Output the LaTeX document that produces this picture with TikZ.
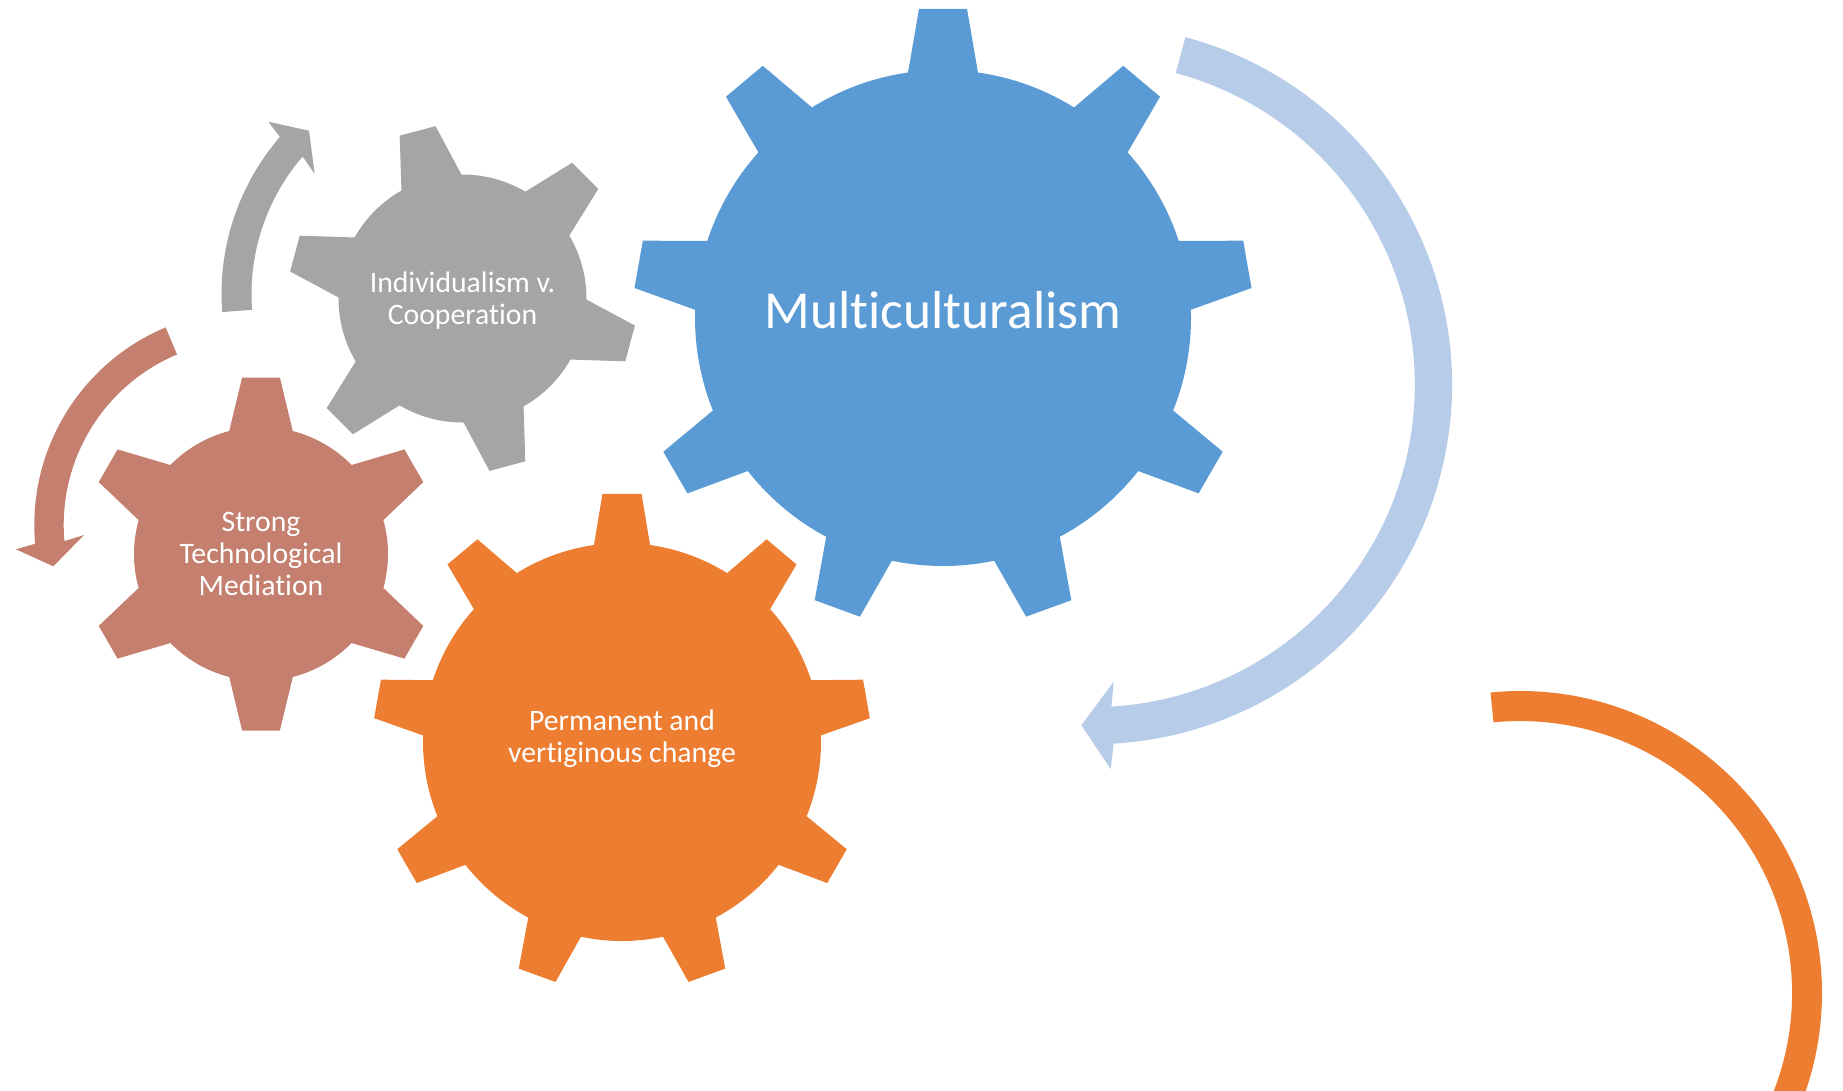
\documentclass[tikz,border=0pt]{standalone}
\usepackage{fontspec}
\setmainfont{Carlito}[Ligatures=CommonOff]
\usetikzlibrary{positioning}
\definecolor{gearblue}{HTML}{5B9BD5}
\definecolor{gearorange}{HTML}{ED7D31}
\definecolor{geargray}{HTML}{A5A5A5}
\definecolor{gearsalmon}{HTML}{C47F6E}
\definecolor{arrowblue}{HTML}{B7CCE8}
\tikzset{
  lab/.style = {text = white, align = center, inner sep = 0pt,
                font = \fontsize{8.45}{9.1}\selectfont},
  bigoneLab/.style = {lab, font = \fontsize{15.2}{17}\selectfont}
}
% teeth, turn, body radius, tip radius, half base angle, half tip angle, colour
\newcommand{\gearshape}[7]{
  \pgfmathsetmacro{\gstep}{360/#1}
  \fill[#7] (#2-#5:#3)
    \foreach [evaluate=\i as \ga using #2+(\i-1)*\gstep] \i in {1,...,#1} {
      -- (\ga-#6:#4) -- (\ga+#6:#4) -- (\ga+#5:#3)
      arc[start angle=\ga+#5, end angle=\ga+\gstep-#5, radius=#3]
    } -- cycle;
}
% outer radius, inner radius, tail angle, neck angle, head points, colour
\newcommand{\bentarrow}[8]{
  \fill[#8] (#3:#1) arc[start angle=#3, end angle=#4, radius=#1]
    -- #5 -- #6 -- #7 -- (#4:#2)
    arc[start angle=#4, end angle=#3, radius=#2] -- cycle;
}

\begin{document}
\begin{tikzpicture}[x=0.01cm, y=0.01cm]
  \useasboundingbox (0,0) rectangle (1843,-1090);
  \clip (0,0) rectangle (1843,-1090);

  % Gears
  \begin{scope}[shift={(943,-318)}]
    \gearshape{9}{90}{248}{310}{8.1}{4.45}{gearblue}
  \end{scope}
  \begin{scope}[shift={(622,-742)}]
    \gearshape{9}{90}{199}{249}{8.1}{4.5}{gearorange}
  \end{scope}
  \begin{scope}[shift={(261,-554)}]
    \gearshape{6}{90}{127}{177.5}{14.5}{6.1}{gearsalmon}
  \end{scope}
  \begin{scope}[shift={(462.5,-298.5)}]
    \gearshape{6}{105}{124}{174.5}{14.5}{6.1}{geargray}
  \end{scope}

  % Arrows
  \begin{scope}[shift={(1092.3,-384.6)}]
    \bentarrow{359.7}{322.5}{75}{-86.6}{(18.4,-384.4)}{(-11,-340.7)}{(21.4,-297.1)}{arrowblue}
  \end{scope}
  \begin{scope}[shift={(462,-294)}]
    \bentarrow{240.5}{210.5}{184.3}{139.2}{(-193.7,172.3)}{(-153,163.3)}{(-147.3,120)}{geargray}
  \end{scope}
  \begin{scope}[shift={(248.7,-525)}]
    \bentarrow{214.4}{185}{112.8}{185}{(-232.7,-24.3)}{(-195.4,-41.3)}{(-164.7,-10)}{gearsalmon}
  \end{scope}
  \begin{scope}[shift={(1520,-993)}]
    \fill[gearorange] (95.6:302) arc[start angle=95.6, end angle=-25, radius=302]
      -- (-25:272) arc[start angle=-25, end angle=95.6, radius=272] -- cycle;
  \end{scope}

  % Labels
  \node[bigoneLab] (multi) at (943,-310) {Multiculturalism};
  \node[lab] (indiv) at (462.5,-300.4) {Individualism v.\\Cooperation};
  \node[lab] (strong) at (261,-553.6) {Strong\\Technological\\Mediation};
  \node[lab] (perm) at (622,-738.7) {Permanent and\\vertiginous change};
\end{tikzpicture}
\end{document}
